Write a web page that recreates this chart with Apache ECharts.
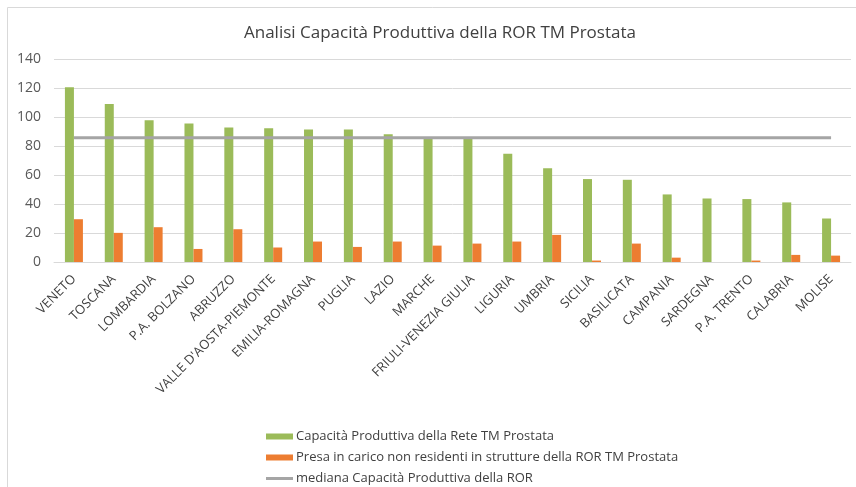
<!DOCTYPE html>
<html>
<head>
    <meta charset="utf-8">
    <script src="https://cdn.jsdelivr.net/npm/echarts@6.0.0/dist/echarts.min.js"></script>
</head>
<body style="margin: 0; background: #fff">
<div id="container" style="height: 487px; width: 856px;"></div>
<script>

var regioni = ['VENETO', 'TOSCANA', 'LOMBARDIA', 'P.A. BOLZANO', 'ABRUZZO', "VALLE D'AOSTA-PIEMONTE",
    'EMILIA-ROMAGNA', 'PUGLIA', 'LAZIO', 'MARCHE', 'FRIULI-VENEZIA GIULIA', 'LIGURIA', 'UMBRIA',
    'SICILIA', 'BASILICATA', 'CAMPANIA', 'SARDEGNA', 'P.A. TRENTO', 'CALABRIA', 'MOLISE'];

var capacita = [120.6, 108.9, 97.8, 95.5, 92.7, 92.2, 91.3, 91.3, 88.1, 85.3, 85.0, 74.7, 64.6,
    57.2, 56.7, 46.6, 43.8, 43.4, 41.1, 30.0];
var nonResidenti = [29.5, 20.1, 24.0, 9.0, 22.6, 10.0, 14.1, 10.4, 14.1, 11.3, 12.7, 14.1, 18.7,
    1.0, 12.7, 3.0, 0, 1.0, 4.9, 4.4];
var mediana = 85.7;

var yTicks = {min: 0, max: 140, interval: 20};

var nomi = ['Capacità Produttiva della Rete TM Prostata',
    'Presa in carico non residenti in strutture della ROR TM Prostata',
    'mediana Capacità Produttiva della ROR'];

var font = 'Open Sans';

var myChart = echarts.init(document.getElementById('container'));

var option = {
    animation: false,
    title: {
        text: 'Analisi Capacità Produttiva della ROR TM Prostata',
        left: 239,
        top: 20,
        textStyle: {fontFamily: font, fontSize: 17, fontWeight: 'normal', color: '#404040'}
    },
    graphic: [{
        type: 'rect',
        shape: {x: 7.5, y: 7.5, width: 900, height: 500},
        style: {fill: 'none', stroke: '#d9d9d9', lineWidth: 1}
    }],
    legend: {
        orient: 'vertical',
        left: 266,
        top: 428,
        height: 70,
        padding: 0,
        itemWidth: 27,
        itemHeight: 6,
        itemGap: 4,
        textStyle: {fontFamily: font, fontSize: 13, lineHeight: 17, color: '#404040', padding: [0, 0, 0, -2]},
        data: [
            {name: nomi[0], icon: 'rect'},
            {name: nomi[1], icon: 'rect'},
            {name: nomi[2], icon: 'path://M0,0 L27,0 L27,3 L0,3 Z'}
        ]
    },
    grid: {left: 54, right: 5, top: 59, bottom: 225},
    xAxis: {
        type: 'category',
        data: regioni,
        axisLine: {lineStyle: {color: '#d9d9d9'}},
        axisTick: {show: false},
        axisLabel: {
            rotate: 45,
            interval: 0,
            margin: 15,
            fontFamily: font,
            fontSize: 13,
            color: '#404040'
        }
    },
    yAxis: {
        type: 'value',
        min: yTicks.min,
        max: yTicks.max,
        interval: yTicks.interval,
        axisLine: {show: false},
        axisTick: {show: false},
        splitLine: {lineStyle: {color: '#d9d9d9'}},
        axisLabel: {fontFamily: font, fontSize: 14, color: '#595959', margin: 13}
    },
    series: [
        {
            name: nomi[0],
            type: 'bar',
            data: capacita,
            barWidth: 9,
            barGap: '0%',
            itemStyle: {color: '#9bbb59'}
        },
        {
            name: nomi[1],
            type: 'bar',
            data: nonResidenti,
            barWidth: 9,
            itemStyle: {color: '#ed7d31'}
        },
        {
            name: nomi[2],
            type: 'line',
            data: regioni.map(function () { return mediana; }),
            symbol: 'none',
            lineStyle: {color: '#a5a5a5', width: 3},
            itemStyle: {color: '#a5a5a5'}
        }
    ]
};

myChart.setOption(option);

</script>
</body>
</html>
